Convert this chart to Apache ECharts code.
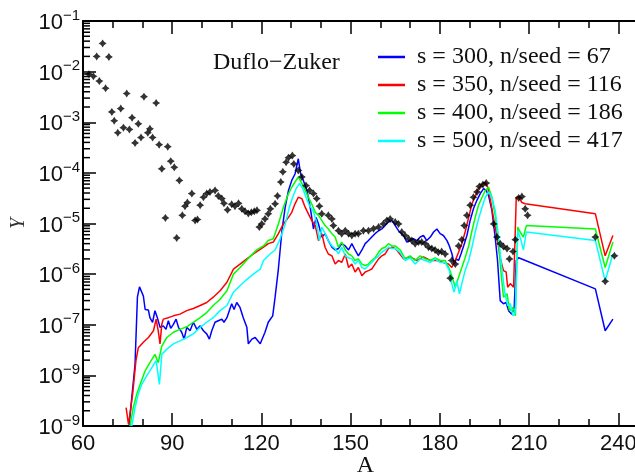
<!DOCTYPE html>
<html>
<head>
<meta charset="utf-8">
<script src="https://cdn.jsdelivr.net/npm/echarts@6/dist/echarts.min.js"></script>
<style>
  html, body { margin: 0; padding: 0; background: #fff; }
  #chart { width: 635px; height: 476px; }
</style>
</head>
<body>
<div id="chart"></div>
<script>
// Mass number A versus yield Y (Duflo-Zuker mass model) for several seed sets.

// Tick labels of the y axis (decade exponents and the superscripts printed next to "10")
const yDecades = [-9, -8, -7, -6, -5, -4, -3, -2, -1];
const yDecadeSup = ['−9', '−9', '−7', '−6', '−5', '−4', '−3', '−2', '−1'];
const xTickLabels = [60, 90, 120, 150, 180, 210, 240];

const seriesNames = [
  's = 300, n/seed = 67',
  's = 350, n/seed = 116',
  's = 400, n/seed = 186',
  's = 500, n/seed = 417'
];

// Observed abundances (black markers)
const obsA = [62, 63.5, 64.6, 65.5, 66.6, 67.6, 68.7, 69.7, 70.5, 71.7, 72.7, 73.6, 74.7, 75.6, 76.5, 77.5, 78.6, 79.5, 80.5, 81.8,
  82.5, 83.4, 84.6, 85.6, 86.5, 87.7, 88.5, 89.5, 90.7, 91.5, 92.4, 93.4, 94.3, 95.1, 96.6, 97.7, 98.5, 99.4, 100.5, 101.6,
  102.7, 104.4, 105.5, 106.7, 107.4, 108.6, 110, 111.1, 112.3, 113.4, 114.5, 115.6, 116.6, 117.6, 118.5, 119.3, 120.1, 121.2, 122.3, 123,
  124.6, 125.4, 126.5, 127.2, 128.3, 129.1, 130.4, 130.9, 132.4, 133.6, 135, 136.2, 137.5, 138.6, 139.5, 140.3, 142.5, 143.7, 144.2, 145.9,
  147, 148.2, 149.3, 150.4, 151.5, 152.6, 154.3, 156, 157.7, 159.4, 161, 162.2, 163.3, 165, 166.1, 167.2, 168.3, 169.5, 170.6, 171.7,
  172.8, 173.9, 175.1, 176.2, 177.3, 178.4, 179.5, 180.6, 181.8, 183.5, 184, 185.2, 186.3, 187.4, 188.2, 189.1, 190.2, 191.3, 192.5, 193.3,
  194.5, 195.6, 198.1, 199.2, 200.3, 201.4, 202.6, 203.4, 204.6, 205.4, 206.5, 207.6, 208.7, 209.5, 232.3, 235.6, 238.7];
const obsY = [8.9e-3, 8.1e-3, 2.0e-2, 6.5e-3, 3.6e-2, 4.7e-3, 1.95e-2, 1.6e-3, 1.07e-3, 6.2e-4, 1.86e-3, 7.8e-4, 3.7e-3, 7.2e-4, 1.23e-3, 3.9e-4, 9.3e-4, 5.0e-4, 3.2e-3, 6.2e-4,
  7.4e-4, 5.0e-4, 2.4e-3, 3.6e-4, 1.2e-4, 1.29e-5, 3.3e-4, 1.7e-4, 1.29e-4, 5.2e-6, 7.1e-5, 1.45e-5, 2.2e-5, 2.6e-5, 3.9e-5, 1.15e-5, 1.2e-5, 2.3e-5, 3.3e-5, 3.9e-5,
  4.2e-5, 4.5e-5, 3.5e-5, 3.1e-5, 2.5e-5, 1.86e-5, 2.4e-5, 2.2e-5, 2.5e-5, 1.95e-5, 1.74e-5, 1.58e-5, 1.66e-5, 1.74e-5, 1.82e-5, 8.5e-6, 9.8e-6, 1.23e-5, 1.55e-5, 1.95e-5,
  2.45e-5, 3.5e-5, 6.6e-5, 1.05e-4, 1.62e-4, 2.0e-4, 2.2e-4, 1.5e-4, 1.12e-4, 8.3e-5, 5.6e-5, 4.5e-5, 3.9e-5, 3.1e-5, 2.2e-5, 1.55e-5, 1.45e-5, 1.23e-5, 9.1e-6, 7.2e-6,
  6.3e-6, 7.2e-6, 6.3e-6, 5.8e-6, 6.3e-6, 6.3e-6, 7.2e-6, 7.2e-6, 7.9e-6, 8.5e-6, 9.8e-6, 1.15e-5, 1.23e-5, 1.07e-5, 9.8e-6, 6.8e-6, 5.8e-6, 5.0e-6, 4.6e-6, 4.0e-6,
  4.3e-6, 4.3e-6, 4.0e-6, 3.4e-6, 3.2e-6, 3.0e-6, 2.7e-6, 2.8e-6, 2.5e-6, 8.3e-7, 1.86e-6, 1.58e-6, 3.6e-6, 4.8e-6, 9.1e-6, 1.45e-5, 2.3e-5, 3.3e-5, 4.2e-5, 5.4e-5,
  5.9e-5, 6.3e-5, 9.8e-6, 5.4e-6, 4.0e-6, 3.5e-6, 3.2e-6, 2.0e-6, 2.8e-6, 4.8e-6, 3.2e-5, 3.4e-5, 1.95e-5, 1.45e-5, 5.4e-6, 7.2e-7, 2.3e-6];

// s = 300
const s300A = [75.5, 76.4, 77.5, 78.3, 79, 79.4, 80.3, 80.9, 82, 82.5, 83.4, 84.2, 85, 85.9, 87, 87.9, 88.7, 89.5, 90.4, 91.3,
  92.1, 93.2, 94, 94.9, 96, 97.1, 98.3, 99.4, 100.5, 101.6, 102.5, 103.3, 104.4, 105.5, 106.7, 107.4, 108.4, 109.2, 110, 110.8,
  111.7, 112.8, 113.9, 115.1, 115.6, 116.8, 117.9, 119.6, 121.2, 122.3, 123.8, 124.6, 125.7, 126.9, 128, 129.1, 130.2, 131.3, 132.4, 133.2,
  134.1, 135.3, 136.4, 137.5, 138.4, 139.2, 140.3, 141.4, 142.5, 143.7, 144.8, 145.9, 147, 148.2, 149.3, 150.4, 151.5, 152.6, 153.8, 154.9,
  156, 157.1, 158.2, 159.4, 160.5, 161.6, 162.7, 163.9, 165, 166.1, 167.8, 168.9, 170, 171.1, 172.3, 173.4, 174.5, 175.6, 176.8, 177.9,
  179, 180.1, 181.2, 182.4, 183.2, 184.1, 184.8, 185.5, 186.3, 187.1, 188, 189.1, 190.2, 191.3, 192.5, 193.6, 194.7, 195.6, 196.4, 197.5,
  198.6, 199.4, 200.3, 201.4, 202.3, 203.1, 204.2, 205, 205.7, 206.5, 232.3, 235.6, 238.2];
const s300Y = [1.0e-9, 3.6e-9, 1.66e-8, 3.5e-7, 5.6e-7, 5.9e-7, 3.7e-7, 2.0e-7, 1.95e-7, 1.38e-7, 1.12e-7, 1.9e-7, 1.38e-7, 8.9e-8, 9.5e-8, 8.1e-8, 1.2e-7, 8.5e-8, 1.02e-7, 1.29e-7,
  8.9e-8, 7.1e-8, 5.2e-8, 8.9e-8, 7.6e-8, 1.12e-7, 8.1e-8, 9.5e-8, 7.6e-8, 6.6e-8, 5.2e-8, 7.6e-8, 1.12e-7, 1.2e-7, 1.29e-7, 1.12e-7, 1.38e-7, 1.9e-7, 2.6e-7, 2.0e-7,
  2.75e-7, 2.2e-7, 1.38e-7, 8.9e-8, 4.2e-8, 5.2e-8, 5.6e-8, 4.2e-8, 7.1e-8, 1.12e-7, 1.5e-7, 3.5e-7, 1.26e-6, 7.2e-6, 2.1e-5, 4.5e-5, 7.1e-5, 9.5e-5, 1.9e-4, 9.5e-5,
  7.1e-5, 4.5e-5, 2.1e-5, 7.8e-6, 1.32e-5, 9.8e-6, 5.4e-6, 6.3e-6, 4.6e-6, 3.4e-6, 3.0e-6, 3.2e-6, 4.0e-6, 3.6e-6, 3.0e-6, 4.0e-6, 3.0e-6, 2.3e-6, 3.0e-6, 4.0e-6,
  4.6e-6, 5.4e-6, 6.3e-6, 7.2e-6, 7.8e-6, 9.1e-6, 1.07e-5, 1.15e-5, 9.1e-6, 7.2e-6, 5.8e-6, 4.3e-6, 4.6e-6, 5.0e-6, 4.6e-6, 5.4e-6, 5.8e-6, 4.6e-6, 5.4e-6, 6.8e-6,
  7.8e-6, 6.3e-6, 5.8e-6, 4.6e-6, 3.6e-6, 2.5e-6, 1.58e-6, 2.0e-6, 1.86e-6, 2.5e-6, 3.6e-6, 5.8e-6, 1.15e-5, 1.95e-5, 2.9e-5, 3.9e-5, 4.9e-5, 4.5e-5, 3.5e-5, 1.82e-5,
  5.4e-6, 1.86e-6, 3.0e-7, 2.6e-7, 2.75e-7, 1.9e-7, 1.62e-7, 2.2e-7, 1.86e-6, 2.1e-6, 5.1e-7, 7.6e-8, 1.29e-7];

// s = 350
const s350A = [74.5, 75.3, 76.7, 77.8, 78.6, 80.3, 82, 83.7, 84.6, 85.3, 85.9, 86.5, 87, 88.7, 90.4, 92.6, 94.9, 97.1, 99.4, 101.6,
  103.8, 106.1, 108.4, 110.6, 112.8, 115.1, 117.3, 120.7, 122.3, 124, 125.7, 127.4, 129.1, 130.2, 131.3, 132.4, 133.6, 134.7, 135.8, 136.9,
  138.1, 139.2, 140.3, 141.4, 142.5, 143.7, 144.8, 145.9, 147, 148.2, 149.3, 150.4, 151.5, 152.6, 153.8, 154.9, 156, 157.1, 158.2, 159.4,
  160.5, 161.6, 162.7, 163.9, 165, 166.1, 167.8, 170, 172.3, 174.5, 176.8, 179, 181.2, 182.9, 184, 185.2, 186.3, 187.4, 188.5, 189.7,
  190.8, 191.9, 193, 194.2, 195.3, 196.1, 197, 198.1, 199.2, 200.3, 201.4, 202.3, 202.8, 203.7, 204.8, 205.7, 206.5, 207.6, 208.7, 232.3,
  235.6, 238.2];
const s350Y = [2.3e-9, 1.07e-9, 4.3e-9, 1.95e-8, 3.5e-8, 4.5e-8, 5.6e-8, 7.6e-8, 1.29e-7, 7.6e-8, 4.2e-8, 1.02e-7, 1.29e-7, 1.38e-7, 1.5e-7, 1.62e-7, 1.9e-7, 2.1e-7, 2.4e-7, 2.75e-7,
  3.5e-7, 4.7e-7, 6.9e-7, 1.26e-6, 1.58e-6, 2.0e-6, 2.5e-6, 3.4e-6, 4.0e-6, 4.3e-6, 6.3e-6, 9.8e-6, 1.32e-5, 1.66e-5, 2.45e-5, 3.3e-5, 3.1e-5, 2.1e-5, 1.55e-5, 1.15e-5,
  9.1e-6, 4.6e-6, 6.3e-6, 3.4e-6, 2.5e-6, 2.3e-6, 1.58e-6, 1.86e-6, 1.7e-6, 2.5e-6, 1.35e-6, 1.58e-6, 1.1e-6, 1.35e-6, 9.3e-7, 1.1e-6, 1.17e-6, 1.26e-6, 1.58e-6, 2.0e-6,
  2.3e-6, 2.5e-6, 3.2e-6, 3.4e-6, 3.2e-6, 2.7e-6, 2.0e-6, 2.2e-6, 1.86e-6, 2.2e-6, 1.86e-6, 1.86e-6, 1.7e-6, 1.58e-6, 1.35e-6, 1.86e-6, 2.7e-6, 4.0e-6, 6.8e-6, 1.32e-5,
  2.45e-5, 3.5e-5, 4.9e-5, 5.9e-5, 6.6e-5, 5.2e-5, 2.9e-5, 1.23e-5, 5.4e-6, 2.1e-6, 1.17e-6, 1.1e-6, 5.5e-7, 6.5e-7, 5.5e-7, 3.3e-5, 3.3e-5, 2.6e-5, 2.45e-5, 1.55e-5,
  2.3e-6, 5.8e-6];

// s = 400
const s400A = [75.8, 76.9, 78.1, 79.2, 80.9, 82.5, 84.2, 85.3, 86.5, 88.2, 90.4, 92.6, 94.9, 97.1, 99.4, 101.6, 103.8, 106.1, 108.4, 110.6,
  112.8, 115.1, 117.3, 118.4, 120.7, 122.3, 124, 125.7, 127.4, 129.1, 130.2, 131.3, 132.4, 133.6, 134.7, 135.8, 136.9, 138.1, 139.2, 140.3,
  141.4, 142.5, 143.7, 144.8, 145.9, 147, 148.2, 149.3, 150.4, 151.5, 152.6, 153.8, 154.9, 156, 157.1, 158.2, 159.4, 160.5, 161.6, 162.7,
  163.9, 165, 166.7, 168.3, 170, 171.7, 173.4, 175.1, 176.8, 178.4, 180.1, 181.8, 183.2, 184, 185.2, 186.3, 187.4, 188.5, 189.7, 190.8,
  191.9, 193, 194.2, 195.3, 196.4, 197.5, 198.6, 199.7, 200.5, 201.4, 202.6, 203.4, 204.6, 205.4, 206.2, 207, 208.1, 209.1, 232.3, 235.6,
  238.2];
const s400Y = [1.0e-9, 2.3e-9, 4.3e-9, 6.6e-9, 1.23e-8, 1.78e-8, 2.6e-8, 1.78e-8, 3.8e-8, 5.6e-8, 7.1e-8, 8.1e-8, 9.1e-8, 1.12e-7, 1.38e-7, 1.74e-7, 2.4e-7, 3.2e-7, 4.7e-7, 1.0e-6,
  1.35e-6, 1.9e-6, 2.6e-6, 3.0e-6, 3.6e-6, 4.6e-6, 5.0e-6, 9.8e-6, 2.1e-5, 3.9e-5, 5.2e-5, 6.6e-5, 8.3e-5, 6.2e-5, 4.5e-5, 3.3e-5, 2.45e-5, 1.66e-5, 1.45e-5, 1.15e-5,
  9.1e-6, 7.8e-6, 6.3e-6, 5.4e-6, 3.4e-6, 4.3e-6, 3.0e-6, 2.5e-6, 2.3e-6, 1.86e-6, 2.0e-6, 1.58e-6, 1.48e-6, 1.58e-6, 1.86e-6, 2.1e-6, 2.7e-6, 3.2e-6, 3.4e-6, 4.0e-6,
  3.6e-6, 3.6e-6, 3.0e-6, 2.0e-6, 2.3e-6, 1.86e-6, 2.3e-6, 2.0e-6, 1.86e-6, 2.1e-6, 1.86e-6, 1.86e-6, 1.26e-6, 9.3e-7, 5.5e-7, 8.7e-7, 1.35e-6, 2.1e-6, 3.6e-6, 7.2e-6,
  1.32e-5, 2.3e-5, 3.3e-5, 4.5e-5, 5.2e-5, 3.3e-5, 1.45e-5, 4.6e-6, 1.17e-6, 3.5e-7, 4.1e-7, 1.9e-7, 2.2e-7, 1.5e-7, 8.5e-6, 6.8e-6, 5.4e-6, 9.1e-6, 7.8e-6, 1.35e-6,
  4.3e-6];

// s = 500
const s500A = [76.4, 77.5, 78.6, 79.7, 81.4, 83.1, 84.6, 85.7, 86.5, 88.2, 90.4, 92.6, 94.9, 97.1, 99.4, 101.6, 103.8, 106.1, 108.4, 110.6,
  112.8, 115.1, 117.3, 119.6, 120.7, 122.9, 124.6, 126.3, 128, 129.4, 130.5, 131.7, 132.8, 133.9, 135, 136.1, 137.3, 138.4, 139.5, 140.3,
  141.4, 142.5, 143.7, 144.8, 145.9, 147, 148.2, 149.3, 150.4, 151.5, 152.6, 153.8, 154.9, 156, 157.1, 158.2, 159.4, 160.5, 161.6, 162.7,
  163.9, 165, 166.7, 168.3, 170, 171.7, 173.4, 175.1, 176.8, 178.4, 180.1, 181.8, 183.2, 184, 184.8, 185.7, 186.6, 187.4, 188.5, 189.7,
  190.8, 191.9, 193, 194.2, 195.3, 196.4, 197.5, 198.6, 199.7, 200.8, 201.9, 202.8, 203.7, 204.6, 205.4, 206.2, 207.3, 208.1, 209.1, 232.3,
  235.6, 238.2];
const s500Y = [1.0e-9, 2.3e-9, 4.3e-9, 6.6e-9, 9.8e-9, 1.41e-8, 1.95e-8, 6.6e-9, 2.6e-8, 3.3e-8, 4.2e-8, 4.8e-8, 5.6e-8, 6.6e-8, 8.9e-8, 1.12e-7, 1.38e-7, 1.9e-7, 2.4e-7, 4.4e-7,
  5.9e-7, 7.9e-7, 1.0e-6, 1.26e-6, 1.86e-6, 2.5e-6, 3.0e-6, 5.0e-6, 9.8e-6, 2.1e-5, 3.3e-5, 4.9e-5, 6.2e-5, 4.9e-5, 3.3e-5, 2.3e-5, 1.82e-5, 1.15e-5, 4.6e-6, 8.5e-6,
  6.3e-6, 4.6e-6, 3.6e-6, 3.2e-6, 2.5e-6, 3.4e-6, 2.3e-6, 2.1e-6, 2.0e-6, 1.58e-6, 1.86e-6, 1.35e-6, 1.26e-6, 1.48e-6, 1.7e-6, 2.0e-6, 2.3e-6, 2.7e-6, 3.0e-6, 3.4e-6,
  3.2e-6, 3.2e-6, 2.7e-6, 1.86e-6, 2.1e-6, 1.58e-6, 2.0e-6, 1.86e-6, 1.7e-6, 2.0e-6, 1.7e-6, 1.7e-6, 1.17e-6, 6.5e-7, 4.4e-7, 7.4e-7, 4.1e-7, 6.5e-7, 1.17e-6, 1.86e-6,
  3.4e-6, 6.8e-6, 1.23e-5, 2.1e-5, 3.3e-5, 4.2e-5, 3.3e-5, 1.82e-5, 5.8e-6, 1.35e-6, 4.1e-7, 2.4e-7, 2.6e-7, 1.5e-7, 1.74e-7, 7.2e-6, 4.6e-6, 3.0e-6, 6.8e-6, 4.6e-6,
  7.4e-7, 2.5e-6];

const seriesColors = ['#0000ff', '#ff0000', '#00ff00', '#00ffff'];
const seriesA = [s300A, s350A, s400A, s500A];
const seriesY = [s300Y, s350Y, s400Y, s500Y];

const pairs = (xs, ys) => xs.map((x, i) => [x, ys[i]]);

// minor tick values of the logarithmic axis: 2..9 times each decade
const minorValues = [];
for (let d = -9; d < -1; d++) {
  for (let k = 2; k <= 9; k++) minorValues.push(k * Math.pow(10, d));
}

const serif = "'Liberation Serif', 'Times New Roman', serif";
const sansNarrow = "'Liberation Sans Narrow', 'Arial Narrow', 'Liberation Sans', sans-serif";
const black = '#000';
const xMin = 60, xMax = 250;

function xAxisDef(position, interval, tickLen, withLabels) {
  return {
    type: 'value', min: xMin, max: xMax, interval: interval, position: position,
    axisLine: { show: withLabels, lineStyle: { color: black, width: 2 } },
    axisTick: { show: true, inside: true, length: tickLen, lineStyle: { color: black, width: 1.5 } },
    axisLabel: withLabels && position === 'bottom' ? {
      margin: 7, color: '#111', fontSize: 22, fontFamily: sansNarrow,
      formatter: v => xTickLabels.indexOf(v) >= 0 ? String(v) : ''
    } : { show: false },
    splitLine: { show: false },
    name: withLabels && position === 'bottom' ? 'A' : '',
    nameLocation: 'middle', nameGap: 28, nameMoveOverlap: false,
    nameTextStyle: { fontFamily: serif, fontSize: 24, color: '#111' }
  };
}

const chart = echarts.init(document.getElementById('chart'), null, { renderer: 'canvas' });
chart.setOption({
  animation: false,
  backgroundColor: '#fff',
  grid: { left: 83, top: 21, right: -13, bottom: 50, containLabel: false, outerBoundsMode: 'none' },
  xAxis: [
    xAxisDef('bottom', 30, 13, true),
    xAxisDef('top', 30, 13, true),
    xAxisDef('bottom', 10, 7, false),
    xAxisDef('top', 10, 7, false)
  ],
  yAxis: [
    {
      type: 'value', min: -9, max: -1, interval: 1, position: 'left',
      axisLine: { show: true, lineStyle: { color: black, width: 2 } },
      axisTick: { show: true, inside: true, length: 13, lineStyle: { color: black, width: 1.5 } },
      splitLine: { show: false },
      axisLabel: {
        margin: 3,
        formatter: v => {
          const i = yDecades.indexOf(v);
          return i < 0 ? '' : '{b|10}{s|' + yDecadeSup[i] + '}';
        },
        rich: {
          b: { fontFamily: sansNarrow, fontSize: 22, color: '#111', verticalAlign: 'bottom', lineHeight: 26 },
          s: { fontFamily: sansNarrow, fontSize: 15, color: '#111', verticalAlign: 'top', lineHeight: 26 }
        }
      },
      name: 'Y', nameLocation: 'middle', nameGap: 54, nameRotate: 90, nameMoveOverlap: false,
      nameTextStyle: { fontFamily: serif, fontStyle: 'italic', fontSize: 20, color: '#333' }
    },
    {
      type: 'log', logBase: 10, min: 1e-9, max: 1e-1, position: 'left',
      axisLine: { show: false }, axisTick: { show: false },
      axisLabel: { show: false }, splitLine: { show: false }
    }
  ],
  legend: {
    orient: 'vertical', left: 378, top: 45, padding: 0,
    itemWidth: 27, itemHeight: 2.5, itemGap: 4,
    icon: 'rect',
    textStyle: { fontFamily: serif, fontSize: 24, color: '#111', lineHeight: 24, padding: [0, 0, 0, 7] },
    data: seriesNames
  },
  graphic: [{
    type: 'text', left: 213, top: 51,
    style: { text: 'Duflo−Zuker', font: '24px ' + serif, fill: '#111' }
  }],
  series: seriesNames.map((name, i) => ({
    name: name, type: 'line', xAxisIndex: 0, yAxisIndex: 1,
    data: pairs(seriesA[i], seriesY[i]),
    showSymbol: false, symbol: 'none',
    lineStyle: { color: seriesColors[i], width: 1.5 },
    itemStyle: { color: seriesColors[i] },
    clip: true, z: 2 + i
  })).concat([
    {
      name: 'data', type: 'scatter', xAxisIndex: 0, yAxisIndex: 1,
      data: pairs(obsA, obsY),
      symbol: 'path://M0,-10 L4,-4 L10,0 L4,4 L0,10 L-4,4 L-10,0 L-4,-4 Z',
      symbolSize: 8,
      itemStyle: { color: '#000' },
      z: 10
    },
    {
      // short inside ticks at 2..9 x 10^n along the logarithmic left axis
      name: 'minor ticks', type: 'custom', xAxisIndex: 0, yAxisIndex: 1,
      silent: true, z: 20,
      data: minorValues.map(v => [xMin, v]),
      renderItem: (params, api) => {
        const p = api.coord([api.value(0), api.value(1)]);
        return {
          type: 'line',
          shape: { x1: p[0], y1: p[1], x2: p[0] + 7, y2: p[1] },
          style: { stroke: black, lineWidth: 1.5 }
        };
      }
    }
  ])
});
</script>
</body>
</html>
